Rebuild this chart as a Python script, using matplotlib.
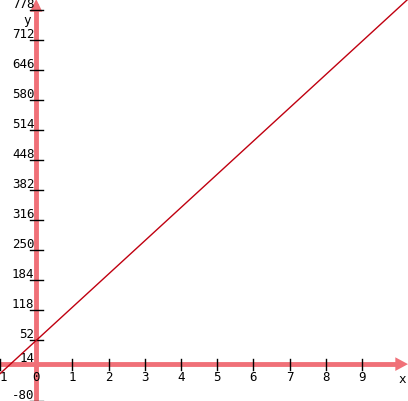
import matplotlib
matplotlib.use("Agg")
import matplotlib.pyplot as plt
import numpy as np

slope = 73
intercept = 52
x_ticks = [1, 2, 3, 4, 5, 6, 7, 8, 9]
y_ticks = [-80, 52, 118, 184, 250, 316, 382, 448, 514, 580, 646, 712, 778]
xmin, xmax, ymin, ymax = -1.0, 10.27, -81, 802

fig = plt.figure(figsize=(4.08, 4.02), dpi=100)
ax = fig.add_axes([0, 0, 1, 1])
ax.set_xlim(xmin, xmax); ax.set_ylim(ymin, ymax)
ax.axis('off')
ac = '#f07078'
ax.plot([xmin, xmax - 0.3], [0, 0], color=ac, lw=3.5, zorder=1)
ax.plot([0, 0], [ymin, ymax - 15], color=ac, lw=3.5, zorder=1)
ax.fill([xmax - 0.35, xmax, xmax - 0.35], [-15, 0, 15], color=ac, lw=0)
ax.fill([-0.17, 0, 0.17], [ymax - 28, ymax, ymax - 28], color=ac, lw=0)
fm = 'DejaVu Sans Mono'
for t in x_ticks:
    ax.plot([t, t], [-12, 12], color='black', lw=1)
    ax.text(t, -14, str(t), ha='center', va='top', fontsize=9, family=fm)
ax.plot([-1, -1], [-12, 12], color='black', lw=1)
ax.text(-0.92, -14, '1', ha='center', va='top', fontsize=9, family=fm)
ax.text(0, -14, '0', ha='center', va='top', fontsize=9, family=fm)
for t in y_ticks:
    ax.plot([-0.18, 0.18], [t, t], color='black', lw=1)
    ax.text(-0.05, t, str(t), ha='right', va='bottom', fontsize=9, family=fm)
ax.text(-0.05, 0, '14', ha='right', va='bottom', fontsize=9, family=fm)
ax.text(-0.25, 757, 'y', ha='center', va='center', fontsize=9, family=fm)
ax.text(10.1, -18, 'x', ha='center', va='top', fontsize=9, family=fm)
xs = np.array([xmin, xmax])
ax.plot(xs, slope * xs + intercept, color='#c00010', lw=1, zorder=3)
fig.savefig('out.png', dpi=100)
